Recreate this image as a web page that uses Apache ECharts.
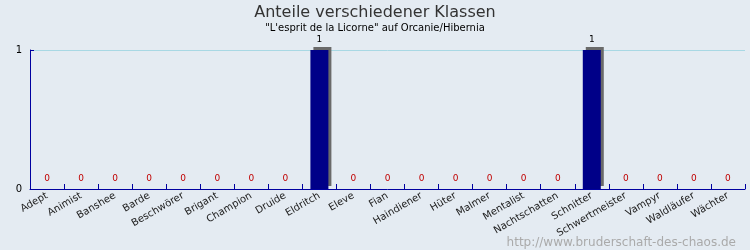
<!DOCTYPE html>
<html><head><meta charset="utf-8">
<script src="https://cdn.jsdelivr.net/npm/echarts@6/dist/echarts.min.js"></script>
<style>html,body{margin:0;padding:0;background:#e4ebf2;}#c{width:750px;height:250px;}</style>
</head><body><div id="c"></div>
<script>
const categories = ["Adept","Animist","Banshee","Barde","Beschwörer","Brigant","Champion","Druide","Eldritch","Eleve","Fian","Haindiener","Hüter","Malmer","Mentalist","Nachtschatten","Schnitter","Schwertmeister","Vampyr","Waldläufer","Wächter"];
const counts = [0,0,0,0,0,0,0,0,1,0,0,0,0,0,0,0,1,0,0,0,0];
const yTicks = [0, 1];
const titleText = "Anteile verschiedener Klassen";
const subtitleText = "\"L'esprit de la Licorne\" auf Orcanie/Hibernia";
const watermark = "http://www.bruderschaft-des-chaos.de";

const chart = echarts.init(document.getElementById('c'), null, {renderer: 'canvas'});
const font = 'DejaVu Sans';
chart.setOption({
  backgroundColor: '#e4ebf2',
  animation: false,
  textStyle: {fontFamily: font},
  title: [
    {text: titleText, left: 'center', top: 0, textStyle: {fontFamily: font, fontSize: 16, fontWeight: 'normal', color: '#333'}},
    {text: subtitleText, left: 'center', top: 18, textStyle: {fontFamily: font, fontSize: 10, fontWeight: 'normal', color: '#000'}},
    {text: watermark, right: 9, top: 232, textStyle: {fontFamily: font, fontSize: 12, fontWeight: 'normal', color: '#aaaaaa'}}
  ],
  grid: {left: 30, right: 5, top: 50, bottom: 61},
  xAxis: {
    type: 'category',
    data: categories,
    axisLine: {show: true, lineStyle: {color: '#0000a0', width: 1}},
    axisTick: {show: true, inside: true, length: 5, interval: 0, lineStyle: {color: '#0000a0', width: 1}},
    axisLabel: {rotate: 30, fontSize: 10, color: '#222', fontFamily: font, margin: 6, interval: 0}
  },
  yAxis: {
    type: 'value',
    min: yTicks[0], max: yTicks[yTicks.length - 1], interval: 1,
    axisLine: {show: true, lineStyle: {color: '#0000a0'}},
    axisTick: {show: true, inside: true, length: 4, lineStyle: {color: '#0000a0'}},
    axisLabel: {fontSize: 10, color: '#000', margin: 8, fontFamily: font},
    splitLine: {show: true, lineStyle: {color: '#a8d8e4', width: 1}}
  },
  series: [{
    type: 'bar',
    barWidth: 18,
    data: counts.map(v => ({value: v, label: {color: v === 0 ? '#c00000' : '#000'}})),
    itemStyle: {color: '#000088', shadowColor: '#6a6a6a', shadowOffsetX: 3, shadowOffsetY: -3, shadowBlur: 0},
    label: {show: true, position: 'top', distance: 6, fontSize: 9, fontFamily: font}
  }]
});
</script></body></html>
